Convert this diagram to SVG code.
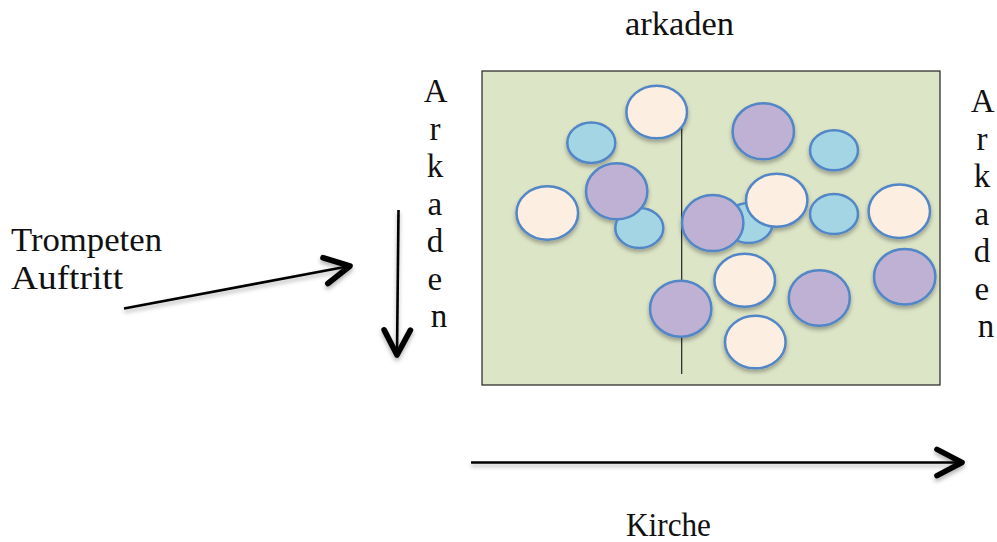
<svg xmlns="http://www.w3.org/2000/svg" width="997" height="542" viewBox="0 0 997 542">
<style>
  text { font-family: "Liberation Serif", "DejaVu Serif", serif; font-size: 33px; fill: #111; }
  .col { text-anchor: middle; }
  .peach { fill: #FDEEE2; stroke: #5286C6; stroke-width: 2.5; }
  .blue { fill: #A3D5E4; stroke: #5286C6; stroke-width: 2.5; }
  .purple { fill: #BFB1D3; stroke: #5286C6; stroke-width: 2.5; }
  .conn { stroke: #000; stroke-width: 2.6; fill: none; }
</style>
<defs>
  <filter id="sh" x="-20%" y="-20%" width="140%" height="150%">
    <feDropShadow dx="0" dy="3" stdDeviation="2" flood-color="#000" flood-opacity="0.3"/>
  </filter>
  <marker id="arr" markerUnits="userSpaceOnUse" markerWidth="40" markerHeight="40" refX="0" refY="0" viewBox="-26 -16 32 32" orient="auto" overflow="visible">
    <path d="M-20,-10.5 L0,0 L-20,10.5" fill="none" stroke="#000" stroke-width="4.5" stroke-linecap="round" stroke-linejoin="round"/>
  </marker>
</defs>

<g id="field">
  <rect x="482" y="71" width="458" height="314" fill="#DDE5C7" stroke="#222" stroke-width="1.2"/>
  <line x1="681.7" y1="128" x2="681.7" y2="374" stroke="#222" stroke-width="1.2"/>
</g>

<g id="players" filter="url(#sh)">
  <ellipse id="p1" class="peach" cx="656.7" cy="112" rx="30.3" ry="26.3"/>
  <ellipse id="b1" class="blue" cx="591.3" cy="142.7" rx="24" ry="20.3"/>
  <ellipse id="b2" class="blue" cx="639.3" cy="228" rx="24" ry="20"/>
  <ellipse id="u1" class="purple" cx="616.7" cy="191.3" rx="30.7" ry="28"/>
  <ellipse id="p2" class="peach" cx="547.3" cy="213" rx="30.8" ry="26.7"/>
  <ellipse id="u2" class="purple" cx="763.3" cy="131.3" rx="30.7" ry="28"/>
  <ellipse id="b3" class="blue" cx="834" cy="150.3" rx="24" ry="20"/>
  <ellipse id="b4" class="blue" cx="748.7" cy="223" rx="24" ry="20"/>
  <ellipse id="u3" class="purple" cx="712.7" cy="223" rx="30.7" ry="28"/>
  <ellipse id="p3" class="peach" cx="776.7" cy="200.3" rx="30.7" ry="26.5"/>
  <ellipse id="b5" class="blue" cx="834" cy="214" rx="24" ry="20"/>
  <ellipse id="p4" class="peach" cx="899.3" cy="211.3" rx="30.7" ry="26.7"/>
  <ellipse id="u4" class="purple" cx="904.7" cy="276.7" rx="30.7" ry="27.8"/>
  <ellipse id="p5" class="peach" cx="744.7" cy="280.3" rx="30.3" ry="26.5"/>
  <ellipse id="u5" class="purple" cx="819.3" cy="298" rx="30.5" ry="27.8"/>
  <ellipse id="u6" class="purple" cx="680.7" cy="308.7" rx="30.7" ry="28"/>
  <ellipse id="p6" class="peach" cx="755.3" cy="342" rx="30.3" ry="26.3"/>
</g>

<g id="connectors" filter="url(#sh)">
  <line class="conn" x1="124" y1="308.5" x2="350" y2="266" marker-end="url(#arr)"/>
  <line class="conn" x1="398.5" y1="210" x2="397" y2="355" marker-end="url(#arr)"/>
  <line class="conn" x1="471" y1="462.5" x2="962" y2="462.5" marker-end="url(#arr)"/>
</g>

<g id="labels">
  <text id="t-arkaden" x="625" y="35" textLength="109" lengthAdjust="spacingAndGlyphs">arkaden</text>
  <g id="t-trompeten">
    <text x="11" y="251" textLength="151" lengthAdjust="spacingAndGlyphs">Trompeten</text>
    <text x="11" y="289" textLength="112" lengthAdjust="spacingAndGlyphs">Auftritt</text>
  </g>
  <text id="t-kirche" x="626" y="536" textLength="85" lengthAdjust="spacingAndGlyphs">Kirche</text>
  <text id="t-arkaden-left" class="col">
    <tspan x="439" y="102">A</tspan>
    <tspan x="439" y="139.5">r</tspan>
    <tspan x="439" y="177">k</tspan>
    <tspan x="439" y="214.5">a</tspan>
    <tspan x="439" y="252">d</tspan>
    <tspan x="439" y="289.5">e</tspan>
    <tspan x="439" y="327">n</tspan>
  </text>
  <text id="t-arkaden-right" class="col">
    <tspan x="986" y="112">A</tspan>
    <tspan x="986" y="149.5">r</tspan>
    <tspan x="986" y="187">k</tspan>
    <tspan x="986" y="224.5">a</tspan>
    <tspan x="986" y="262">d</tspan>
    <tspan x="986" y="299.5">e</tspan>
    <tspan x="986" y="337">n</tspan>
  </text>
</g>
</svg>
